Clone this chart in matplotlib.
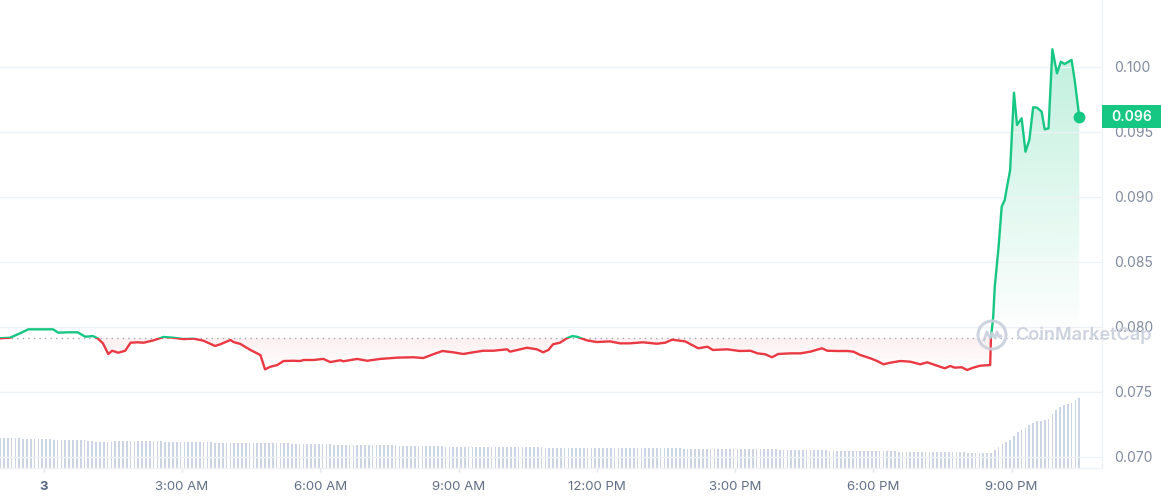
import numpy as np
import matplotlib.pyplot as plt
import matplotlib.transforms as mtransforms
from matplotlib.patches import Rectangle, Ellipse
from matplotlib.path import Path

plt.rcParams['font.family'] = ['Inter', 'DejaVu Sans']

# ---- price data (minutes from midnight, price in USD) ----
minutes = [-57, -44, -31, -20, -5, 12, 19, 31, 44, 54, 64, 70, 77, 84, 89, 97, 106, 113, 122, 130,
           143, 156, 169, 182, 195, 208, 223, 230, 243, 247, 256, 269, 282, 288, 295, 304, 312, 325, 334, 338,
           351, 364, 373, 386, 390, 408, 421, 438, 460, 481, 494, 507, 519, 533, 546, 559, 572, 585, 603, 607,
           629, 642, 650, 657, 663, 672, 681, 688, 694, 707, 720, 737, 750, 763, 780, 798, 809, 818, 835, 852,
           864, 871, 890, 906, 920, 929, 939, 948, 956, 972, 985, 998, 1013, 1020, 1033, 1046, 1054, 1063, 1076, 1085,
           1093, 1102, 1115, 1128, 1141, 1150, 1163, 1173, 1180, 1186, 1195, 1202, 1210, 1219, 1232, 1233, 1236, 1238, 1243, 1247,
           1251, 1254, 1258, 1263, 1267, 1273, 1278, 1283, 1288, 1293, 1299, 1303, 1308, 1313, 1319, 1324, 1329, 1338, 1342, 1348]
prices = [0.07911, 0.07915, 0.07949, 0.07980, 0.07980, 0.07980, 0.07954, 0.07957, 0.07957, 0.07923,
          0.07928, 0.07911, 0.07872, 0.07790, 0.07815, 0.07800, 0.07815, 0.07877, 0.07880, 0.07877,
          0.07895, 0.07921, 0.07915, 0.07905, 0.07908, 0.07892, 0.07852, 0.07865, 0.07898, 0.07882,
          0.07867, 0.07821, 0.07782, 0.07672, 0.07692, 0.07705, 0.07736, 0.07738, 0.07736, 0.07744,
          0.07744, 0.07752, 0.07728, 0.07742, 0.07734, 0.07752, 0.07738, 0.07752, 0.07762, 0.07765,
          0.07759, 0.07788, 0.07813, 0.07803, 0.07790, 0.07803, 0.07815, 0.07815, 0.07826, 0.07808,
          0.07838, 0.07826, 0.07803, 0.07821, 0.07865, 0.07877, 0.07911, 0.07928, 0.07923, 0.07895,
          0.07882, 0.07887, 0.07872, 0.07872, 0.07880, 0.07869, 0.07877, 0.07900, 0.07887, 0.07834,
          0.07846, 0.07821, 0.07826, 0.07813, 0.07815, 0.07795, 0.07788, 0.07765, 0.07790, 0.07795,
          0.07795, 0.07808, 0.07834, 0.07815, 0.07813, 0.07813, 0.07808, 0.07782, 0.07757, 0.07736,
          0.07711, 0.07723, 0.07736, 0.07731, 0.07711, 0.07726, 0.07700, 0.07680, 0.07698, 0.07685,
          0.07688, 0.07667, 0.07685, 0.07700, 0.07705, 0.07911, 0.08077, 0.08308, 0.08615, 0.08923,
          0.08975, 0.09077, 0.09205, 0.09800, 0.09552, 0.09603, 0.09346, 0.09436, 0.09688, 0.09685,
          0.09654, 0.09518, 0.09526, 0.10134, 0.09949, 0.10038, 0.10021, 0.10052, 0.09898, 0.09615]

# ---- volume (5-minute bars, first bar at -57 min, arbitrary units) ----
vol_start = -57
volume = [30, 30, 30, 30, 30, 30, 29.5, 29.5, 29.5, 29, 29, 29,
          29, 29, 28.5, 28.5, 28.5, 28, 28, 28, 28, 28, 28, 27.5,
          27, 26.5, 26.5, 26.5, 26, 26, 27, 27, 27, 27.5, 27.5, 27.5,
          27.5, 27, 27, 27, 27, 27, 27, 26.5, 26.5, 26.5, 26.5, 26.5,
          26.5, 26, 26, 26, 26, 26, 26, 26, 25.5, 25.5, 25.5, 25.5,
          25.5, 25.5, 25, 25, 25, 25, 25, 25, 25, 25, 25, 25,
          25, 25, 25, 25, 24.5, 24.5, 24.5, 24.5, 24.5, 24, 24, 24,
          24, 24, 24, 23.5, 23.5, 23.5, 23.5, 23.5, 23.5, 23.5, 23.5, 23,
          23, 23, 23, 23, 23, 23, 23, 23, 22.5, 22.5, 22.5, 22.5,
          22, 22, 22, 22, 22, 22, 22, 22, 21.5, 21.5, 21.5, 21.5,
          21.5, 21.5, 21.5, 21.5, 21.5, 21.5, 21.5, 21.5, 21, 21, 21, 21,
          21, 21, 21, 21, 21, 21, 21, 21, 21, 21, 20.5, 20.5,
          20.5, 20.5, 20.5, 20.5, 20.5, 20.5, 20.5, 20.5, 20.5, 20.5, 20.5, 20.5,
          20.5, 20.5, 20.5, 20, 20, 20, 20, 20, 20, 20, 20, 20,
          20, 20, 20, 20, 20, 20, 20, 20, 20, 20, 19.5, 19.5,
          19.5, 19.5, 19.5, 19.5, 19.5, 19.5, 19, 19, 19, 19, 19, 19,
          19, 19, 19, 19, 19, 19, 19, 19, 19.5, 19, 19, 18.5,
          18.5, 18.5, 18.5, 18, 18, 18, 18, 18, 18, 18, 18, 18,
          17.5, 17.5, 17.5, 17.5, 17.5, 17.5, 17.5, 17.5, 17.5, 17.5, 17, 17,
          17, 17, 17, 17, 17, 17, 16.5, 16.5, 16.5, 16.5, 16.5, 16.5,
          16.5, 16.5, 16.5, 16.5, 16, 16, 16, 16, 16, 16, 16, 16,
          15.5, 15.5, 15.5, 15.5, 15.5, 15.5, 15.5,
          18.4, 21, 23.7, 26, 27.7, 31.7, 36, 37.7, 40, 42.7, 45, 46.7,
          47, 47.7, 49.3, 53.7, 58.3, 61, 62.7, 63.7, 65, 67.7, 70.3]

tick_hours = [0, 3, 6, 9, 12, 15, 18, 21]
tick_labels = ['3', '3:00 AM', '6:00 AM', '9:00 AM', '12:00 PM', '3:00 PM', '6:00 PM', '9:00 PM']
price_ticks = [0.070, 0.075, 0.080, 0.085, 0.090, 0.095, 0.100]

GREEN = '#16c784'
RED = '#ea3943'

t = np.array(minutes) / 60
p = np.array(prices)
base = p[0]
vt = (vol_start + 5 * np.arange(len(volume))) / 60

xmin, xmax = -57 / 60, 1377.6 / 60
ymin, ymax = 0.069131, 0.105131

fig = plt.figure(figsize=(11.61, 5.0), dpi=100)
pos = [0, 32 / 500, 1102 / 1161, 468 / 500]

# volume axis underneath
axv = fig.add_axes(pos)
axv.bar(vt, volume, width=2.2 / 60, color='#cdd5e4', linewidth=0)
axv.set_xlim(xmin, xmax)
axv.set_ylim(0, 468)
axv.set_axis_off()

ax = fig.add_axes(pos)
ax.patch.set_alpha(0)


def gradient_fill(where, rgb, y_hi, y_lo, a_hi, a_lo):
    coll = ax.fill_between(t, p, base, where=where, interpolate=True,
                           facecolor='none', edgecolor='none')
    path = Path.make_compound_path(*coll.get_paths())
    grad = np.zeros((256, 1, 4))
    grad[:, 0, :3] = rgb
    grad[:, 0, 3] = np.linspace(a_lo, a_hi, 256)
    im = ax.imshow(grad, extent=[xmin, xmax, y_lo, y_hi], origin='lower',
                   aspect='auto', zorder=1, interpolation='bilinear')
    im.set_clip_path(path, ax.transData)


gradient_fill(p >= base, (22 / 255, 199 / 255, 132 / 255), p.max(), base, 0.27, 0.0)
gradient_fill(p <= base, (234 / 255, 57 / 255, 67 / 255), base, p.min(), 0.08, 0.0)

# price line coloured above / below the reference price
line_g, = ax.plot(t, p, color=GREEN, lw=1.7, zorder=3, solid_joinstyle='round')
line_r, = ax.plot(t, p, color=RED, lw=1.7, zorder=3, solid_joinstyle='round')
clip_g = Rectangle((xmin, base), xmax - xmin, 1, transform=ax.transData)
clip_r = Rectangle((xmin, base - 1), xmax - xmin, 1, transform=ax.transData)
line_g.set_clip_path(clip_g)
line_r.set_clip_path(clip_r)

ax.plot(t[-1], p[-1], 'o', ms=7.5, color=GREEN, zorder=4)
ax.axhline(base, color='#a3aab7', lw=1, ls=(0, (1, 3)), zorder=2)

ax.set_xlim(xmin, xmax)
ax.set_ylim(ymin, ymax)

ax.set_yticks(price_ticks)
ax.set_yticklabels([f'{v:.3f}' for v in price_ticks])
ax.yaxis.tick_right()
ax.grid(axis='y', color='#eff2f5', lw=1, zorder=0)
ax.tick_params(axis='y', length=0, pad=9, labelsize=10, labelcolor='#808a9d')

ax.set_xticks(tick_hours)
ax.set_xticklabels(tick_labels)
ax.tick_params(axis='x', length=3, width=1, color='#e3e7ed', pad=6,
               labelsize=9.5, labelcolor='#616e85')
first = ax.get_xticklabels()[0]
first.set_fontweight('bold')
first.set_color('#58667e')

for s in ['top', 'left']:
    ax.spines[s].set_visible(False)
for s in ['right', 'bottom']:
    ax.spines[s].set_color('#eff2f5')
    ax.spines[s].set_linewidth(1)

# current price tag
tr = mtransforms.blended_transform_factory(ax.transAxes, ax.transData)
box_h = 23 / 468 * (ymax - ymin)
ax.add_patch(Rectangle((1.0, p[-1] - box_h / 2), 59 / 1102, box_h, transform=tr,
                       facecolor=GREEN, edgecolor='none', clip_on=False, zorder=5))
ax.text(1.0 + 29.5 / 1102, p[-1], f'{p[-1]:.3f}', transform=tr, ha='center', va='center',
        color='white', fontsize=10, fontweight='semibold', zorder=6, clip_on=False)

# watermark
wm = '#c9d0dc'
fig.text(1015 / 1161, 165 / 500, 'CoinMarketCap', fontsize=13, fontweight='semibold',
         color=wm, ha='left', va='center', alpha=0.9)
cx, cy, r = 992, 165, 14
fig.add_artist(Ellipse((cx / 1161, cy / 500), 2 * r / 1161, 2 * r / 500, transform=fig.transFigure,
                       facecolor='none', edgecolor=wm, lw=2.2, alpha=0.9))
wave_x = np.array([-8, -5, -2, 0, 3, 5, 7, 9])
wave_y = np.array([-5, 3, -3, 2, -3, 3, -2, -1])
fig.add_artist(plt.Line2D((cx + wave_x) / 1161, (cy + wave_y) / 500, transform=fig.transFigure,
                          color=wm, lw=2, alpha=0.9, solid_joinstyle='round'))

fig.savefig('out.png', dpi=100, facecolor='white')
